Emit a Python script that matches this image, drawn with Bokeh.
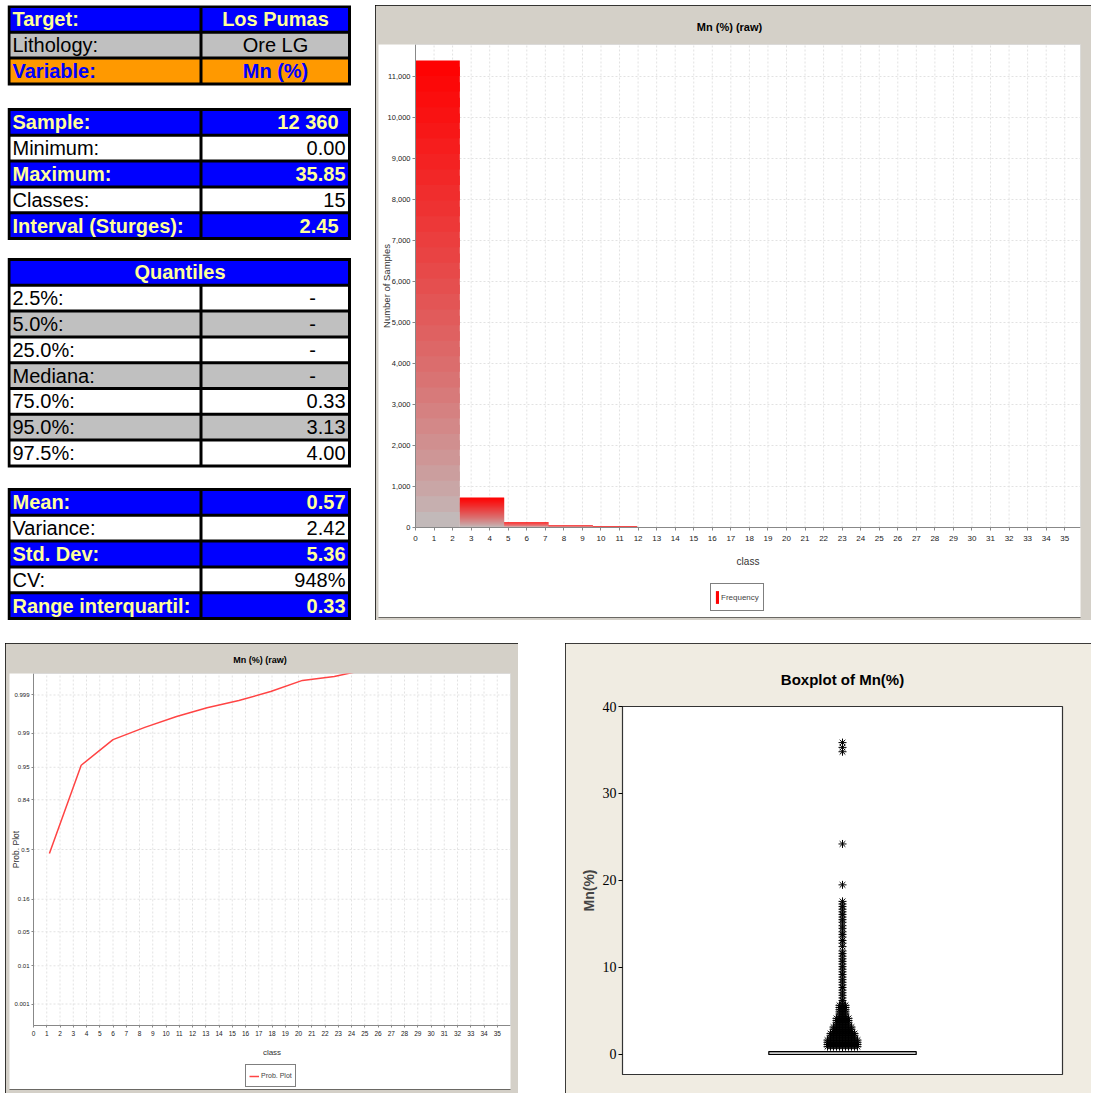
import numpy as np
from statistics import NormalDist
from bokeh.plotting import figure
from bokeh.models import (Range1d, FixedTicker, NumeralTickFormatter, Legend,
                          LegendItem, ColumnDataSource, Spacer, LinearAxis)
from bokeh.layouts import row, column
from bokeh.core.properties import value
from bokeh.embed import file_html
from bokeh.resources import INLINE

# ---------------- data ----------------
info_labels = ["Target:", "Lithology:", "Variable:"]
info_values = ["Los Pumas", "Ore LG", "Mn (%)"]

stat_labels = ["Sample:", "Minimum:", "Maximum:", "Classes:", "Interval (Sturges):"]
stat_values = ["12 360", "0.00", "35.85", "15", "2.45"]

quant_title = "Quantiles"
quant_labels = ["2.5%:", "5.0%:", "25.0%:", "Mediana:", "75.0%:", "95.0%:", "97.5%:"]
quant_values = ["-", "-", "-", "-", "0.33", "3.13", "4.00"]

moment_labels = ["Mean:", "Variance:", "Std. Dev:", "CV:", "Range interquartil:"]
moment_values = ["0.57", "2.42", "5.36", "948%", "0.33"]

max_value = 35.85
n_classes = 15
hist_counts = [11390, 730, 130, 56, 30, 14, 3, 2, 1, 0, 1, 0, 0, 0, 3]
class_ticks = list(range(0, 36))
count_ticks = list(range(0, 12000, 1000))
hist_ymax = 11780

prob_x = [1.2, 3.6, 6.0, 8.4, 10.8, 13.1, 15.5, 17.9, 20.3, 22.7, 25.1]
prob_p = [0.468, 0.954, 0.986, 0.9927, 0.9961, 0.9977, 0.99856, 0.99921, 0.99964, 0.99973, 0.99984]
prob_ticks = [0.001, 0.01, 0.05, 0.16, 0.5, 0.84, 0.95, 0.99, 0.999]
prob_tick_labels = ["0.001", "0.01", "0.05", "0.16", "0.5", "0.84", "0.95", "0.99", "0.999"]
prob_xmax = 36
prob_zlim = 3.52

box_q1 = 0.0
box_median = 0.0
box_q3 = 0.33
box_whisker_hi = 0.83
cone_levels = [0.9, 1.15, 1.4, 1.65, 1.9, 2.15, 2.4, 2.65, 2.9, 3.15, 3.4, 3.65, 3.9,
               4.15, 4.4, 4.65, 4.9, 5.15, 5.4, 5.65, 5.9]
cone_counts = [11, 11, 11, 11, 9, 9, 9, 7, 7, 7, 5, 5, 5, 5, 3, 3, 3, 3, 3, 3, 1]
column_outliers = [6.2, 6.5, 6.8, 7.1, 7.4, 7.7, 8.0, 8.3, 8.6, 8.9, 9.2, 9.5, 9.8, 10.1,
                   10.4, 10.7, 11.0, 11.3, 11.6, 11.9, 12.4, 12.8, 13.1, 13.5, 13.8, 14.1,
                   14.5, 14.8, 15.2, 15.5, 15.8, 16.1, 16.4, 16.7, 17.0, 17.3, 17.6,
                   19.5, 24.2, 34.8, 35.3, 35.85]
box_ticks = [0, 10, 20, 30, 40]

# ---------------- styles ----------------
BLUE = "#0000ff"
YELLOW = "#ffff99"
GRAY = "#c0c0c0"
ORANGE = "#ff9900"
PANEL = "#d4d0c8"
GRID = "#e2e2e2"
FONT = "Liberation Sans"

STYLE = {
    "blue": (BLUE, YELLOW, "bold"),
    "gray": (GRAY, "black", "normal"),
    "white": ("white", "black", "normal"),
    "orange": (ORANGE, BLUE, "bold"),
}

# ---------------- tables ----------------
TW, TH = 344, 615
tab = figure(width=TW, height=TH, x_range=Range1d(0, TW), y_range=Range1d(TH, 0),
             output_backend="svg", toolbar_location=None,
             x_axis_location=None, y_axis_location=None,
             min_border=0, background_fill_color="white", border_fill_color="white")
tab.grid.visible = False
tab.outline_line_color = None

PITCH = 25.8
SPLIT = 193.5
RIGHT = 342

texts = {}


def add_text(x, y, t, color, style, align):
    key = (color, style, align)
    d = texts.setdefault(key, dict(x=[], y=[], text=[]))
    d["x"].append(x)
    d["y"].append(y)
    d["text"].append(t)


def draw_table(top, labels, values, kinds, val_mode, val_x, header=None):
    n = len(labels) + (1 if header else 0)
    tab.quad(left=[0], right=[RIGHT + 1.5], top=[top - 1.5], bottom=[top + n * PITCH + 1.5],
             fill_color="black", line_color=None)
    i0 = 0
    if header:
        fill, col, sty = STYLE["blue"]
        tab.quad(left=[3], right=[RIGHT - 1.5], top=[top + 1.5], bottom=[top + PITCH - 1.5],
                 fill_color=fill, line_color=None)
        add_text((3 + RIGHT) / 2, top + PITCH / 2, header, col, sty, "center")
        i0 = 1
    for i, (lab, val, kind) in enumerate(zip(labels, values, kinds)):
        y0 = top + (i + i0) * PITCH
        fill, col, sty = STYLE[kind]
        tab.quad(left=[3, SPLIT + 1.5], right=[SPLIT - 1.5, RIGHT - 1.5],
                 top=[y0 + 1.5] * 2, bottom=[y0 + PITCH - 1.5] * 2,
                 fill_color=fill, line_color=None)
        add_text(5, y0 + PITCH / 2, lab, col, sty, "left")
        add_text(val_x[i], y0 + PITCH / 2, val, col, sty, val_mode[i])


draw_table(1, info_labels, info_values, ["blue", "gray", "orange"],
           ["center"] * 3, [268] * 3)
draw_table(104, stat_labels, stat_values, ["blue", "white", "blue", "white", "blue"],
           ["right"] * 5, [331, 338, 338, 338, 331])
draw_table(254, quant_labels, quant_values,
           ["white", "gray", "white", "gray", "white", "gray", "white"],
           ["center"] * 4 + ["right"] * 3, [305] * 4 + [338] * 3, header=quant_title)
draw_table(484, moment_labels, moment_values, ["blue", "white", "blue", "white", "blue"],
           ["right"] * 5, [338] * 5)

for (col, sty, align), d in texts.items():
    tab.text(x="x", y="y", text="text", source=ColumnDataSource(d),
             text_color=col, text_font_style=sty, text_align=align,
             text_baseline="middle", text_font=value(FONT), text_font_size="20px")


def style_axis(ax, label_size, tick_out, standoff):
    ax.major_label_text_font = FONT
    ax.major_label_text_font_size = label_size
    ax.major_label_text_color = "#222222"
    ax.axis_label_text_font = FONT
    ax.axis_label_text_font_style = "normal"
    ax.axis_label_text_color = "#333333"
    ax.minor_tick_line_color = None
    ax.major_tick_in = 0
    ax.major_tick_out = tick_out
    ax.major_tick_line_color = "#888888"
    ax.axis_line_color = "#888888"
    ax.major_label_standoff = standoff


# ---------------- histogram ----------------
# frame = whole panel (inside the black outline, under the title);
# plot area 665 x 483 px, starting 37 px right of the frame edge, 90 px above its bottom
hx_px = max_value / 665.0
hy_px = hist_ymax / 483.0
hist = figure(width=716, height=615, x_range=Range1d(-37 * hx_px, max_value),
              y_range=Range1d(-90 * hy_px, hist_ymax),
              output_backend="svg", toolbar_location=None, x_axis_location=None,
              y_axis_location=None,
              min_border_left=3, min_border_right=11, min_border_top=39, min_border_bottom=3,
              background_fill_color=None, border_fill_color=PANEL)
hist.styles = {"outline": "3px solid black", "outline-offset": "-3px"}
hist.title.text = "Mn (%) (raw)"
hist.title.align = "center"
hist.title.offset = 18
hist.title.text_font = FONT
hist.title.text_font_size = "11px"
hist.title.text_font_style = "bold"
hist.title.text_color = "black"
hist.title.standoff = 23
hist.grid.visible = False
hist.outline_line_color = None

hist.quad(left=[0], right=[max_value], bottom=[0], top=[hist_ymax],
          fill_color="white", line_color="#c8c8c8", level="image")
hist.segment(x0=class_ticks[1:], x1=class_ticks[1:], y0=0, y1=hist_ymax,
             line_color=GRID, line_dash="2 2", line_width=1)
hist.segment(x0=0, x1=max_value, y0=count_ticks[1:], y1=count_ticks[1:],
             line_color=GRID, line_dash="2 2", line_width=1)

edges = np.arange(n_classes + 1) * max_value / n_classes
NS = 30
L, R, B, T, C = [], [], [], [], []
for i, c in enumerate(hist_counts):
    if c <= 0:
        continue
    for k in range(NS):
        f = (k + 0.5) / NS
        L.append(edges[i])
        R.append(edges[i + 1])
        B.append(c * k / NS)
        T.append(c * min(1.0, (k + 1.6) / NS))
        t = f ** 0.8
        r = int(round(192 + (255 - 192) * t))
        g = int(round(192 * (1 - t)))
        C.append(f"#{r:02x}{g:02x}{g:02x}")
hsrc = ColumnDataSource(dict(left=L, right=R, bottom=B, top=T, color=C))
hr = hist.quad(left="left", right="right", bottom="bottom", top="top", source=hsrc,
               fill_color="color", line_color=None)

hxa = LinearAxis(fixed_location=0, ticker=FixedTicker(ticks=class_ticks),
                 bounds=(0, max_value), axis_label="class")
hya = LinearAxis(fixed_location=0, ticker=FixedTicker(ticks=count_ticks),
                 bounds=(0, hist_ymax),
                 formatter=NumeralTickFormatter(format="0,0"))
style_axis(hxa, "8px", 3, 5)
style_axis(hya, "7.5px", 3, 2)
hxa.axis_label_text_font_size = "10px"
hxa.axis_label_standoff = 12
hist.add_layout(hxa, "below")
hist.add_layout(hya, "left")
hist.text(x=[-29 * hx_px], y=[hist_ymax / 2], text=["Number of Samples"], angle=np.pi / 2,
          text_align="center", text_baseline="middle", text_font=value(FONT),
          text_font_size="9.5px", text_color="#333333")
hleg = Legend(items=[LegendItem(label="Frequency", renderers=[hr], index=NS - 1)],
              location=(332, 6), border_line_color="black", border_line_width=1,
              background_fill_color="white", label_text_font=FONT, label_text_font_size="8px",
              glyph_width=4, glyph_height=16, padding=4, margin=0, label_standoff=2,
              label_height=18, spacing=0)
hist.add_layout(hleg)

# ---------------- probability plot ----------------
nd = NormalDist()
prob_z = [nd.inv_cdf(v) for v in prob_p]
tick_z = [nd.inv_cdf(v) for v in prob_ticks]
px_px = prob_xmax / 477.0
pz_px = 2 * prob_zlim / 352.0

prob = figure(width=513, height=450, x_range=Range1d(-24 * px_px, prob_xmax),
              y_range=Range1d(-prob_zlim - 64 * pz_px, prob_zlim),
              output_backend="svg", toolbar_location=None, x_axis_location=None,
              y_axis_location=None,
              min_border_left=4, min_border_right=8, min_border_top=30, min_border_bottom=4,
              background_fill_color=None, border_fill_color=PANEL)
prob.styles = {"outline": "4px solid black", "outline-offset": "-4px"}
prob.title.text = "Mn (%) (raw)"
prob.title.align = "center"
prob.title.offset = 12
prob.title.text_font = FONT
prob.title.text_font_size = "9px"
prob.title.text_font_style = "bold"
prob.title.text_color = "black"
prob.title.standoff = 18
prob.grid.visible = False
prob.outline_line_color = None

prob.quad(left=[0], right=[prob_xmax], bottom=[-prob_zlim], top=[prob_zlim],
          fill_color="white", line_color="#c8c8c8", level="image")
prob.segment(x0=class_ticks[1:], x1=class_ticks[1:], y0=-prob_zlim, y1=prob_zlim,
             line_color=GRID, line_dash="2 2", line_width=1)
prob.segment(x0=0, x1=prob_xmax, y0=tick_z, y1=tick_z,
             line_color=GRID, line_dash="2 2", line_width=1)
pr = prob.line(prob_x, prob_z, line_color="#ff4444", line_width=1.5)

pxa = LinearAxis(fixed_location=-prob_zlim, ticker=FixedTicker(ticks=class_ticks),
                 bounds=(0, prob_xmax), axis_label="class")
pya = LinearAxis(fixed_location=0, ticker=FixedTicker(ticks=tick_z),
                 bounds=(-prob_zlim, prob_zlim),
                 major_label_overrides={z: s for z, s in zip(tick_z, prob_tick_labels)})
style_axis(pxa, "6.5px", 2, 3)
style_axis(pya, "6px", 2, 2)
pxa.axis_label_text_font_size = "8px"
pxa.axis_label_standoff = 9
prob.add_layout(pxa, "below")
prob.add_layout(pya, "left")
prob.text(x=[-18 * px_px], y=[0], text=["Prob. Plot"], angle=np.pi / 2,
          text_align="center", text_baseline="middle", text_font=value(FONT),
          text_font_size="8.5px", text_color="#333333")
pleg = Legend(items=[LegendItem(label="Prob. Plot", renderers=[pr])],
              location=(236, 2), border_line_color="black", border_line_width=1,
              background_fill_color="white", label_text_font=FONT, label_text_font_size="7px",
              glyph_width=10, glyph_height=14, padding=3, margin=0, label_standoff=2,
              label_height=15, spacing=0)
prob.add_layout(pleg)

# ---------------- boxplot ----------------
box = figure(width=526, height=450, x_range=Range1d(0, 1), y_range=Range1d(-2.3, 40),
             output_backend="svg", toolbar_location=None, x_axis_location=None,
             min_border_left=57, min_border_right=29, min_border_top=63, min_border_bottom=19,
             background_fill_color="white", border_fill_color="#f0ece2")
box.styles = {"outline": "3px solid black", "outline-offset": "-3px"}
box.title.text = "Boxplot of Mn(%)"
box.title.align = "center"
box.title.text_font = FONT
box.title.text_font_size = "15px"
box.title.text_font_style = "bold"
box.title.text_color = "black"
box.title.standoff = 38
box.grid.visible = False
box.outline_line_color = "#333333"
box.outline_line_width = 1.2

box.segment(x0=[0.5], x1=[0.5], y0=[box_q3], y1=[box_whisker_hi], line_color="black")
box.vbar(x=[0.5], width=0.335, bottom=[box_q1], top=[box_q3],
         fill_color="#cfcfcf", line_color="black", line_width=1.2)
box.segment(x0=[0.5 - 0.1675], x1=[0.5 + 0.1675], y0=[box_median], y1=[box_median],
            line_color="black")

step = 3.0 / 440
ox, oy = [], []
for lv, n in zip(cone_levels, cone_counts):
    for j in range(n):
        ox.append(0.5 + (j - (n - 1) / 2) * step)
        oy.append(lv)
for lv in column_outliers:
    ox.append(0.5)
    oy.append(lv)
box.scatter(ox, oy, marker="asterisk", size=8, line_color="black", line_width=1)

box.yaxis.ticker = FixedTicker(ticks=box_ticks)
box.yaxis.axis_label = "Mn(%)"
box.yaxis.axis_label_text_font = FONT
box.yaxis.axis_label_text_font_style = "bold"
box.yaxis.axis_label_text_font_size = "14px"
box.yaxis.axis_label_standoff = 3
box.yaxis.major_label_text_font = "Liberation Serif"
box.yaxis.major_label_text_font_size = "14px"
box.yaxis.major_label_text_color = "black"
box.yaxis.minor_tick_line_color = None
box.yaxis.major_tick_in = 0
box.yaxis.major_tick_out = 4
box.yaxis.axis_line_color = "#333333"
box.yaxis.major_label_standoff = 2

layout = column(
    Spacer(width=1091, height=5),
    row(Spacer(width=7, height=615), column(tab), Spacer(width=24, height=615), column(hist)),
    Spacer(width=1091, height=23),
    row(Spacer(width=5, height=450), column(prob), Spacer(width=47, height=450), column(box)),
)

open("out.html", "w").write(file_html(layout, INLINE))
